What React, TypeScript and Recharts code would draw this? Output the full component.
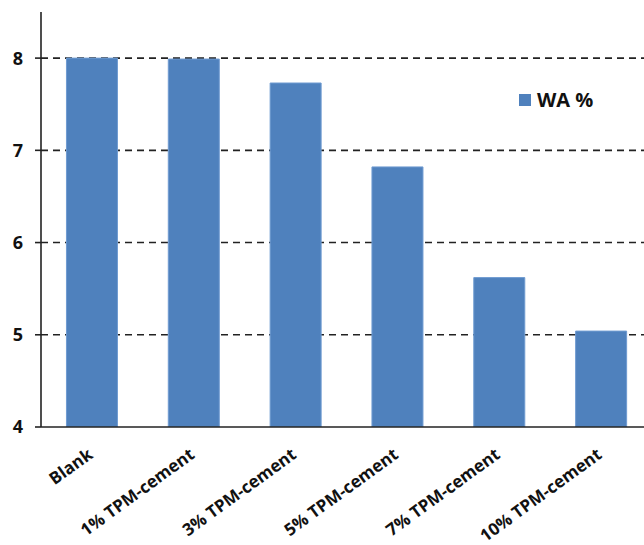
import React from 'react'
import { BarChart, Bar, XAxis, YAxis, CartesianGrid } from 'recharts'

const categories = ['Blank', '1% TPM-cement', '3% TPM-cement', '5% TPM-cement', '7% TPM-cement', '10% TPM-cement']
const waValues = [8.0, 7.99, 7.73, 6.82, 5.62, 5.04]
const yTicks = [4, 5, 6, 7, 8]

const data = categories.map((name, i) => ({ name, wa: waValues[i] }))

const BAR_COLOR = '#4F81BD'
const FONT = '"Open Sans", "Noto Sans", sans-serif'

function CategoryTick({ x, y, payload }: any) {
  const ax = x + 2
  const ay = y + 22
  return (
    <text
      x={ax}
      y={ay}
      transform={`rotate(-36, ${ax}, ${ay})`}
      textAnchor="end"
      fontFamily={FONT}
      fontWeight={700}
      fontSize={17}
      fill="#111"
    >
      {payload.value}
    </text>
  )
}

export default function App() {
  return (
    <div style={{ position: 'absolute', left: 0, top: 0, width: 644, height: 545, overflow: 'hidden', background: '#fff' }}>
      <BarChart width={652} height={545} data={data} margin={{ top: 12, right: 0, bottom: 0, left: 0 }} barCategoryGap="25%">
        <CartesianGrid vertical={false} stroke="#222" strokeWidth={1.6} strokeDasharray="7 5" horizontalValues={[5, 6, 7, 8]} />
        <XAxis
          dataKey="name"
          interval={0}
          height={118}
          tickLine={false}
          axisLine={{ stroke: '#222', strokeWidth: 1.6 }}
          tick={<CategoryTick />}
        />
        <YAxis
          width={41}
          domain={[4, 8.5]}
          ticks={yTicks}
          allowDataOverflow
          axisLine={{ stroke: '#222', strokeWidth: 1.6 }}
          tickLine={{ stroke: '#222', strokeWidth: 1.6 }}
          tickSize={6}
          tick={{ fill: '#111', fontFamily: FONT, fontWeight: 700, fontSize: 18 }}
          tickMargin={12}
        />
        <Bar dataKey="wa" fill={BAR_COLOR} stroke="#6f9bd1" strokeWidth={1} isAnimationActive={false} />
      </BarChart>
      {/* series key */}
      <div style={{ position: 'absolute', left: 519, top: 86, display: 'flex', alignItems: 'center', fontFamily: FONT, fontWeight: 700, fontSize: 20, color: '#111' }}>
        <span style={{ width: 12, height: 12, background: BAR_COLOR, marginRight: 6, display: 'inline-block' }} />
        WA %
      </div>
    </div>
  )
}
